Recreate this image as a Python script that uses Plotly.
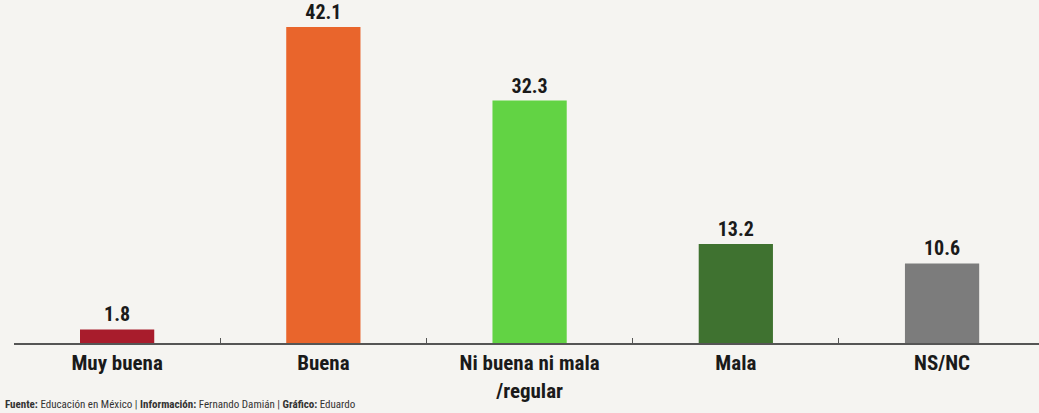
import plotly.graph_objects as go

categories = ["Muy buena", "Buena", "Ni buena ni mala<br>/regular", "Mala", "NS/NC"]
values = [1.8, 42.1, 32.3, 13.2, 10.6]
labels = ["1.8", "42.1", "32.3", "13.2", "10.6"]
colors = ["#a81c2c", "#e9652c", "#62d344", "#3f7230", "#7c7c7c"]

font_cond = "Liberation Sans Narrow, Roboto Condensed, Arial Narrow, sans-serif"

fig = go.Figure()
fig.add_trace(go.Bar(
    x=categories, y=values, text=labels, textposition="outside",
    marker=dict(color=colors, line=dict(width=0)),
    textfont=dict(family=font_cond, size=20, color="#1a1a1a", weight="bold"),
    cliponaxis=False, width=0.36,
))
fig.update_layout(
    width=1039, height=413,
    margin=dict(l=14, r=0, t=0, b=70),
    paper_bgcolor="#f5f4f1", plot_bgcolor="#f5f4f1",
    showlegend=False,
    xaxis=dict(showline=True, linecolor="#555555", linewidth=2,
               range=[-0.5, 4.47],
               tickson="boundaries", ticks="inside", ticklen=5, tickcolor="#555555",
               tickfont=dict(family=font_cond, size=21, color="#1a1a1a", weight="bold"),
               showgrid=False),
    yaxis=dict(range=[0, 45.7], visible=False, showgrid=False),
    annotations=[dict(
        text="<b>Fuente:</b> Educación en México | <b>Información:</b> Fernando Damián | <b>Gráfico:</b> Eduardo",
        xref="paper", yref="paper", x=-0.011, y=-0.18, xanchor="left", yanchor="middle",
        showarrow=False, font=dict(family=font_cond, size=11, color="#333333"))],
)
fig.write_html("out.html", config={"displayModeBar": False},
               post_script="document.body.style.margin='0';document.body.style.overflow='hidden';")
